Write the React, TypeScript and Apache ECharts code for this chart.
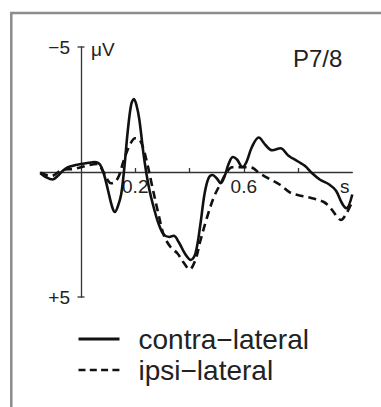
import React, { useEffect, useRef } from "react";
import * as echarts from "echarts";

// ERP waveforms, time in s, amplitude in µV (negative up)
const contraTime = [
  -0.15, -0.13, -0.105, -0.085, -0.07, -0.05, -0.02, 0, 0.03, 0.05, 0.07, 0.085,
  0.1, 0.115, 0.125, 0.135, 0.148, 0.16, 0.172, 0.185, 0.195, 0.205, 0.215, 0.232,
  0.25, 0.27, 0.287, 0.305, 0.325, 0.342, 0.36, 0.385, 0.405, 0.422, 0.44, 0.455,
  0.47, 0.485, 0.5, 0.515, 0.53, 0.545, 0.56, 0.575, 0.595, 0.61, 0.63, 0.655,
  0.68, 0.705, 0.735, 0.765, 0.8, 0.825, 0.852, 0.88, 0.915, 0.94, 0.962, 0.978, 1.0,
];
const contraAmp = [
  0.05, 0.2, 0.3, 0.15, -0.02, -0.18, -0.28, -0.32, -0.37, -0.4, -0.3, 0.1,
  0.75, 1.4, 1.6, 1.4, 0.9, -0.2, -1.6, -2.7, -2.92, -2.65, -2.1, -0.6,
  0.6, 1.5, 2.1, 2.5, 2.6, 2.55, 2.8, 3.3, 3.52, 3.25, 2.1, 0.9,
  0.25, 0.12, 0.25, 0.45, 0.15, -0.35, -0.6, -0.5, -0.2, -0.4, -1.0, -1.38,
  -1.08, -0.87, -0.95, -0.65, -0.42, -0.25, 0.05, 0.3, 0.5, 0.75, 1.25, 1.45, 0.9,
];
const ipsiTime = [
  -0.15, -0.11, -0.07, -0.03, 0, 0.03, 0.06, 0.08, 0.1, 0.11, 0.125, 0.14,
  0.158, 0.183, 0.2, 0.215, 0.228, 0.244, 0.263, 0.287, 0.306, 0.33, 0.355, 0.38,
  0.4, 0.422, 0.44, 0.465, 0.49, 0.515, 0.535, 0.557, 0.585, 0.613, 0.635, 0.655,
  0.69, 0.735, 0.772, 0.815, 0.852, 0.895, 0.92, 0.944, 0.958, 0.975, 0.995,
];
const ipsiAmp = [
  0.03, 0.16, -0.08, -0.12, -0.19, -0.28, -0.32, -0.05, 0.35, 0.45, 0.4, 0.15,
  -0.48, -1.15, -1.35, -1.3, -1.0, -0.35, 0.6, 1.75, 2.55, 3.0, 3.25, 3.65,
  3.9, 3.5, 2.75, 1.8, 1.0, 0.45, 0.05, -0.19, -0.19, -0.19, -0.15, 0.03,
  0.25, 0.52, 0.83, 0.96, 1.05, 1.2, 1.45, 1.79, 1.92, 1.72, 1.3,
];

const seriesNames = ["contra\u2212lateral", "ipsi\u2212lateral"];
const xTickValues = [0.2, 0.4, 0.6, 0.8];
const xLabelValues = [0.2, 0.6];
const xRange = [-0.15, 1.0];
const yRange = [-5, 5];
const channelLabel = "P7/8";
const yUnit = "\u03bcV";
const xUnit = "s";

const FONT = "'Liberation Sans', Arial, Helvetica, sans-serif";
const INK = "#222";
const LINE = "#111";

// layout
const GRID = { left: 40.3, right: 28.7, top: 47, bottom: 110 };
const W = 381;
const H = 407;

export default function App() {
  const ref = useRef<HTMLDivElement>(null);

  useEffect(() => {
    if (!ref.current) return;
    const chart = echarts.init(ref.current, undefined, { renderer: "svg" });
    const contra = contraTime.map((t, i) => [t, contraAmp[i]]);
    const ipsi = ipsiTime.map((t, i) => [t, ipsiAmp[i]]);

    // shift the axes so they cross at the origin (t = 0, 0 µV)
    const gridW = W - GRID.left - GRID.right;
    const gridH = H - GRID.top - GRID.bottom;
    const yAxisOffset = -((0 - xRange[0]) / (xRange[1] - xRange[0])) * gridW;
    const xAxisOffset = -((yRange[1] - 0) / (yRange[1] - yRange[0])) * gridH;

    chart.setOption({
      animation: false,
      backgroundColor: "#fff",
      textStyle: { fontFamily: FONT },
      grid: { ...GRID, containLabel: false },
      xAxis: {
        type: "value",
        position: "bottom",
        offset: xAxisOffset,
        min: xRange[0],
        max: xRange[1],
        axisLine: { onZero: false, lineStyle: { color: "#333", width: 1.3 } },
        axisTick: {
          show: true,
          inside: true,
          length: 4,
          customValues: xTickValues,
          lineStyle: { color: "#333", width: 1.3 },
        },
        axisLabel: {
          customValues: xLabelValues,
          formatter: (v: number) => v.toFixed(1),
          fontSize: 19,
          color: INK,
          fontFamily: FONT,
          margin: 5,
        },
        splitLine: { show: false },
      },
      yAxis: {
        type: "value",
        position: "left",
        offset: yAxisOffset,
        inverse: true,
        min: yRange[0],
        max: yRange[1],
        interval: 10,
        axisLine: {
          show: true,
          onZero: false,
          symbol: ["rect", "rect"],
          symbolSize: [7, 1.3],
          lineStyle: { color: "#333", width: 1.3 },
        },
        axisTick: { show: false },
        axisLabel: {
          formatter: (v: number) => (v < 0 ? "\u2212" + Math.abs(v) : v > 0 ? "+" + v : ""),
          fontSize: 19,
          color: INK,
          fontFamily: FONT,
          margin: 11,
        },
        splitLine: { show: false },
      },
      legend: {
        orient: "vertical",
        left: 77,
        top: 323.5,
        padding: 0,
        itemWidth: 41,
        itemHeight: 14,
        itemGap: 0,
        itemStyle: { opacity: 0 },
        data: [
          { name: seriesNames[0], lineStyle: { width: 3 } },
          { name: seriesNames[1], lineStyle: { width: 2.6, type: [7, 4.3] } },
        ],
        textStyle: {
          fontSize: 28,
          lineHeight: 31,
          color: INK,
          fontFamily: FONT,
          padding: [0, 0, 0, 14],
        },
      },
      series: [
        {
          name: seriesNames[1],
          type: "line",
          data: ipsi,
          smooth: 0.35,
          symbol: "none",
          showSymbol: false,
          lineStyle: { color: LINE, width: 2.6, type: [8, 5] },
          itemStyle: { color: LINE },
        },
        {
          name: seriesNames[0],
          type: "line",
          data: contra,
          smooth: 0.35,
          symbol: "none",
          showSymbol: false,
          lineStyle: { color: LINE, width: 2.6, type: "solid" },
          itemStyle: { color: LINE },
        },
      ],
      graphic: [
        {
          type: "rect",
          shape: { x: 11.3, y: 13, width: 420, height: 440 },
          style: { fill: "none", stroke: "#8c8c8c", lineWidth: 2.5 },
          silent: true,
        },
        {
          type: "text",
          x: 293,
          y: 46,
          style: { text: channelLabel, fontSize: 24, fill: INK, fontFamily: FONT, verticalAlign: "top" },
        },
        {
          type: "text",
          x: 91,
          y: 40,
          style: { text: yUnit, fontSize: 19, fill: INK, fontFamily: FONT, verticalAlign: "top" },
        },
        {
          type: "text",
          x: 340,
          y: 177.4,
          style: { text: xUnit, fontSize: 19, fill: INK, fontFamily: FONT, verticalAlign: "top" },
        },
      ],
    });

    return () => chart.dispose();
  }, []);

  return (
    <div
      ref={ref}
      style={{ position: "absolute", left: 0, top: 0, width: W, height: H, background: "#fff" }}
    />
  );
}
